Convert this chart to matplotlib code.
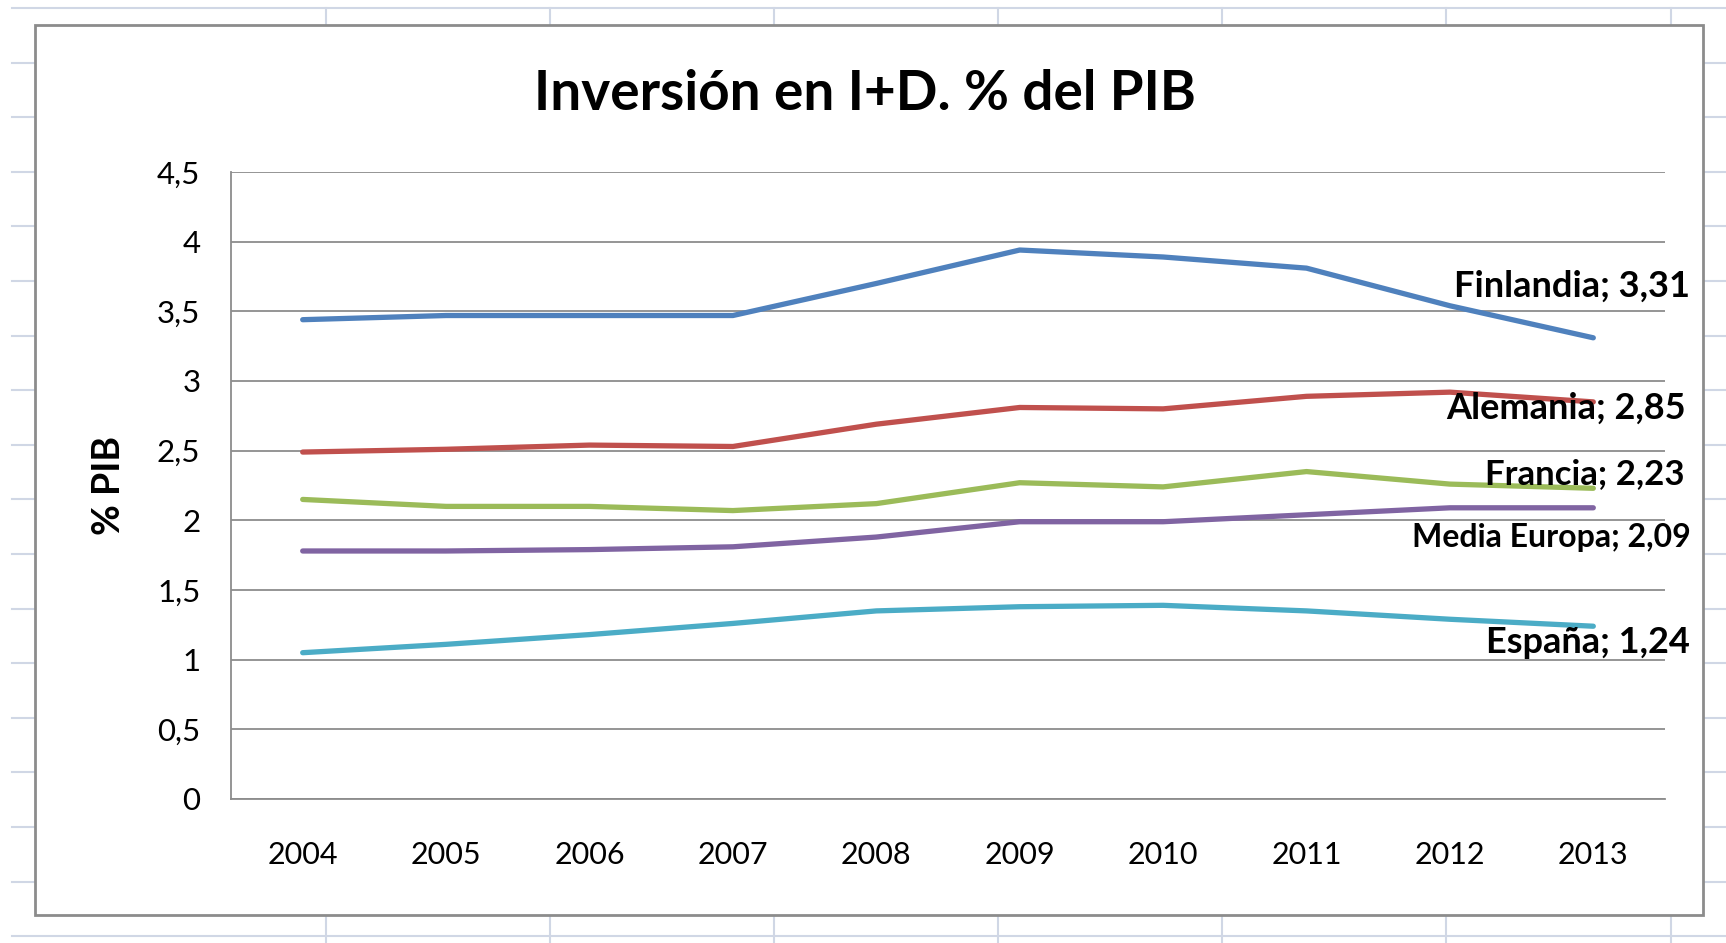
import matplotlib.pyplot as plt
import matplotlib.patches as mpatches
import numpy as np

# Datos: inversion en I+D (% del PIB)
years = ['2004', '2005', '2006', '2007', '2008', '2009', '2010', '2011', '2012', '2013']
finlandia = [3.44, 3.47, 3.47, 3.47, 3.70, 3.94, 3.89, 3.81, 3.54, 3.31]
alemania = [2.49, 2.51, 2.54, 2.53, 2.69, 2.81, 2.80, 2.89, 2.92, 2.85]
francia = [2.15, 2.10, 2.10, 2.07, 2.12, 2.27, 2.24, 2.35, 2.26, 2.23]
media_europa = [1.78, 1.78, 1.79, 1.81, 1.88, 1.99, 1.99, 2.04, 2.09, 2.09]
espana = [1.05, 1.11, 1.18, 1.26, 1.35, 1.38, 1.39, 1.35, 1.29, 1.24]

series_names = ['Finlandia', 'Alemania', 'Francia', 'Media Europa', 'España']
series_vals = [finlandia, alemania, francia, media_europa, espana]
colors = ['#4F81BD', '#C0504D', '#9BBB59', '#8064A2', '#4BACC6']
yticks = [0, 0.5, 1, 1.5, 2, 2.5, 3, 3.5, 4, 4.5]

font = 'Lato'
W, H = 1726, 943
fig = plt.figure(figsize=(W / 100, H / 100), dpi=100)
fig.patch.set_facecolor('white')

# Fondo de hoja de calculo (lineas de celdas)
bg = fig.add_axes([0, 0, 1, 1])
bg.set_xlim(0, W)
bg.set_ylim(H, 0)
bg.axis('off')
for y in 8 + 54.6 * np.arange(18):
    bg.plot([12, W], [y, y], color='#D0D7E5', lw=1.5, zorder=0)
for x in [326, 550, 774, 998, 1222, 1446, 1671]:
    bg.plot([x, x], [8, H], color='#D0D7E5', lw=1.5, zorder=0)
# Marco del grafico
bg.add_patch(mpatches.Rectangle((35, 25), 1668, 890, facecolor='white',
                                edgecolor='#8C8C8C', lw=2, zorder=1))

# Area de trazado
left, right, top, bottom = 231, 1665, 172, 799
ax = fig.add_axes([left / W, (H - bottom) / H, (right - left) / W, (bottom - top) / H])
ax.set_facecolor('none')
x = np.arange(len(years))
for vals, c in zip(series_vals, colors):
    ax.plot(x, vals, color=c, lw=3.8, solid_joinstyle='round', solid_capstyle='round', zorder=3)

ax.set_xlim(-0.5, len(years) - 0.5)
ax.set_ylim(0, 4.5)
ax.set_yticks(yticks)
ax.set_yticklabels([('%g' % v).replace('.', ',') for v in yticks], fontfamily=font, fontsize=22.5)
ax.set_xticks(x)
ax.set_xticklabels(years, fontfamily=font, fontsize=22)
ax.tick_params(axis='both', length=0, colors='black')
ax.tick_params(axis='y', pad=22)
ax.tick_params(axis='x', pad=30)
ax.grid(axis='y', color='#8C8C8C', lw=1.3)
ax.set_axisbelow(True)
for s in ['top', 'right']:
    ax.spines[s].set_visible(False)
for s in ['left', 'bottom']:
    ax.spines[s].set_color('#8C8C8C')
    ax.spines[s].set_linewidth(1.3)

ax.set_ylabel('% PIB', fontfamily=font, fontsize=27, fontweight='bold', labelpad=22)

# Etiquetas de datos en el ultimo punto (desplazamiento en pixeles)
offsets = [(97, 52), (93, -6), (91, 14), (97, -30), (97, -16)]
sizes = [26, 26, 25, 23, 26]
for name, vals, (dx, dy), fs in zip(series_names, series_vals, offsets, sizes):
    lab = '%s; %s' % (name, ('%.2f' % vals[-1]).replace('.', ','))
    ax.annotate(lab, xy=(x[-1], vals[-1]), xytext=(dx, dy), textcoords='offset pixels',
                ha='right', va='center', fontfamily=font, fontsize=fs,
                fontweight='bold', zorder=5, annotation_clip=False)

fig.text(865 / W, 1 - 94 / H, 'Inversión en I+D. % del PIB', ha='center', va='center',
         fontfamily=font, fontsize=39.5, fontweight='bold')

fig.savefig('out.png', dpi=100, facecolor=fig.get_facecolor())
